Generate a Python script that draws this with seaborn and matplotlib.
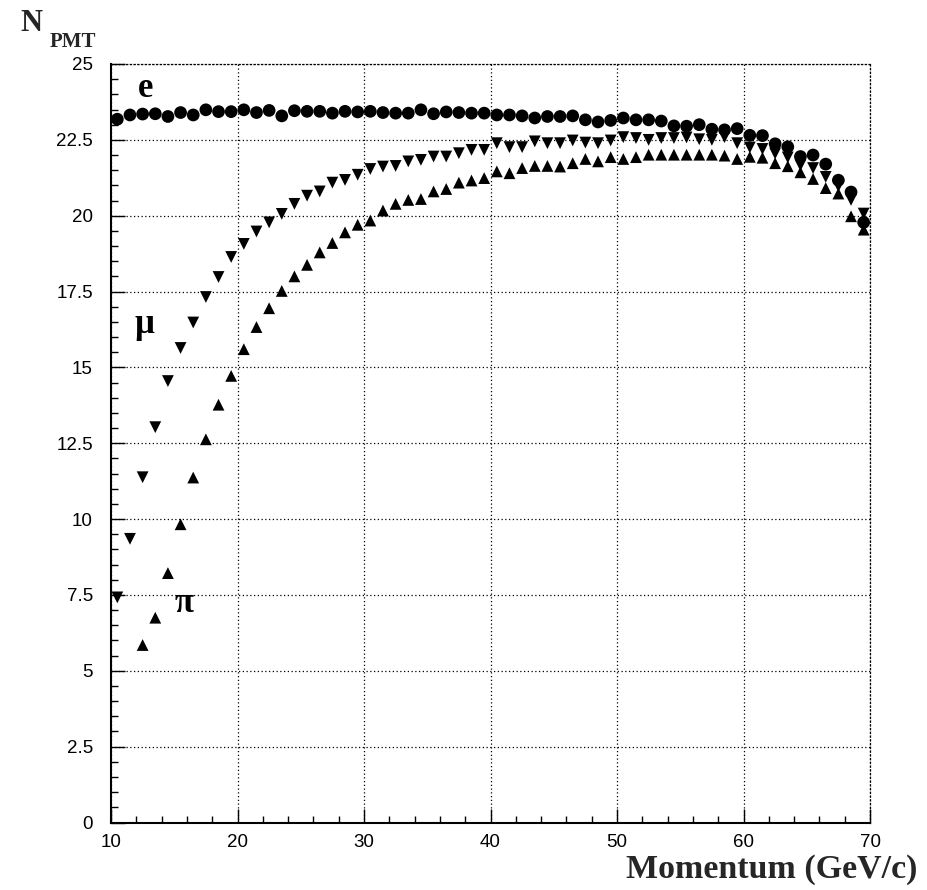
import numpy as np
import pandas as pd
import matplotlib
matplotlib.use("Agg")
import matplotlib.pyplot as plt
from matplotlib.ticker import MultipleLocator, FuncFormatter
import seaborn as sns

# Momentum bin centres (GeV/c)
momentum_e = np.arange(10.5, 70.0, 1.0)
momentum_mu = np.arange(10.5, 70.0, 1.0)
momentum_pi = np.arange(12.5, 70.0, 1.0)

# Mean number of photomultiplier hits per particle type
npmt_e = [23.18, 23.32, 23.35, 23.36, 23.27, 23.40, 23.32, 23.49, 23.43, 23.43,
          23.49, 23.40, 23.47, 23.29, 23.46, 23.44, 23.44, 23.38, 23.44, 23.42,
          23.44, 23.40, 23.38, 23.38, 23.49, 23.36, 23.42, 23.40, 23.38, 23.38,
          23.32, 23.32, 23.29, 23.22, 23.27, 23.27, 23.29, 23.16, 23.09, 23.14,
          23.22, 23.16, 23.16, 23.12, 22.96, 22.95, 23.00, 22.85, 22.83, 22.87,
          22.65, 22.64, 22.37, 22.27, 21.95, 22.00, 21.70, 21.17, 20.78, 19.78]

npmt_mu = [7.42, 9.35, 11.38, 13.03, 14.55, 15.64, 16.48, 17.32, 17.98, 18.64,
           19.07, 19.48, 19.78, 20.06, 20.39, 20.66, 20.80, 21.09, 21.18, 21.35,
           21.54, 21.62, 21.64, 21.79, 21.84, 21.95, 21.95, 22.06, 22.17, 22.17,
           22.39, 22.26, 22.26, 22.45, 22.39, 22.39, 22.48, 22.41, 22.39, 22.48,
           22.59, 22.56, 22.50, 22.56, 22.56, 22.58, 22.52, 22.50, 22.59, 22.39,
           22.25, 22.20, 22.05, 21.92, 21.66, 21.57, 21.28, 20.97, 20.52, 20.07]

npmt_pi = [5.85, 6.75, 8.22, 9.83, 11.37, 12.63, 13.77, 14.72,
           15.60, 16.33, 16.95, 17.52, 18.00, 18.38, 18.79, 19.10, 19.45, 19.70,
           19.84, 20.17, 20.39, 20.52, 20.55, 20.80, 20.88, 21.09, 21.16, 21.24,
           21.46, 21.40, 21.57, 21.64, 21.64, 21.62, 21.73, 21.87, 21.79, 21.93,
           21.87, 21.93, 22.01, 22.01, 22.01, 22.01, 22.01, 22.01, 21.98, 21.87,
           21.94, 21.91, 21.73, 21.63, 21.43, 21.21, 20.91, 20.73, 19.98, 19.54]

x_ticks = [10, 20, 30, 40, 50, 60, 70]
y_ticks = [0, 2.5, 5, 7.5, 10, 12.5, 15, 17.5, 20, 22.5, 25]

df_e = pd.DataFrame({"p": momentum_e, "n": npmt_e})
df_mu = pd.DataFrame({"p": momentum_mu, "n": npmt_mu})
df_pi = pd.DataFrame({"p": momentum_pi, "n": npmt_pi})

sns.set_theme(style="white")
plt.rcParams["font.family"] = ["Liberation Sans", "DejaVu Sans"]

W, H = 927, 890
fig = plt.figure(figsize=(W / 100, H / 100), dpi=100)
ax = fig.add_axes([111 / W, 67.5 / H, (870 - 111) / W, (822.5 - 64) / H])

sns.scatterplot(data=df_pi, x="p", y="n", marker="^", s=72, color="black",
                edgecolor="none", linewidth=0, ax=ax, zorder=3)
sns.scatterplot(data=df_mu, x="p", y="n", marker="v", s=72, color="black",
                edgecolor="none", linewidth=0, ax=ax, zorder=3)
sns.scatterplot(data=df_e, x="p", y="n", marker="o", s=84, color="black",
                edgecolor="none", linewidth=0, ax=ax, zorder=4)

ax.set_xlim(10, 70)
ax.set_ylim(0, 25)
ax.set_xlabel("")
ax.set_ylabel("")

ax.xaxis.set_minor_locator(MultipleLocator(2))
ax.yaxis.set_minor_locator(MultipleLocator(0.5))
ax.set_xticks(x_ticks)
ax.set_yticks(y_ticks)
ax.yaxis.set_major_formatter(FuncFormatter(lambda v, _: f"{v:g}"))

ax.tick_params(which="major", direction="in", length=10, width=1.0,
               color="black", left=True, bottom=True, top=False, right=False,
               labelsize=13.5, labelcolor="black")
ax.tick_params(axis="y", which="major", pad=13)
ax.tick_params(axis="x", which="major", pad=8)
ax.tick_params(which="minor", direction="in", length=5, width=1.0,
               color="black", left=True, bottom=True, top=False, right=False)

ax.grid(True, which="major", color="black", linestyle=(0, (1, 2)), linewidth=0.9)
ax.set_axisbelow(True)

for side in ("left", "bottom"):
    ax.spines[side].set_color("black")
    ax.spines[side].set_linewidth(1.5)
for side in ("top", "right"):
    ax.spines[side].set_color("black")
    ax.spines[side].set_linewidth(0.9)
    ax.spines[side].set_linestyle((0, (1, 2)))

serif = ["Liberation Serif", "DejaVu Serif"]

# particle labels
ax.text(12.72, 23.92, "e", family=serif, weight="bold", fontsize=25,
        ha="center", va="baseline", color="black")
ax.text(12.64, 16.13, "μ", family=serif, weight="bold", fontsize=25,
        ha="center", va="baseline", color="black")
ax.text(15.75, 6.95, "π", family=serif, weight="bold", fontsize=25,
        ha="center", va="baseline", color="black")

# axis titles
fig.text(20 / W, 1 - 31 / H, "N", family=serif, weight="bold", fontsize=22,
         ha="left", va="baseline")
fig.text(50 / W, 1 - 47 / H, "PMT", family=serif, weight="bold", fontsize=15,
         ha="left", va="baseline")
fig.text(917 / W, 12 / H, "Momentum (GeV/c)", family=serif, weight="bold",
         fontsize=24.5, ha="right", va="baseline")

fig.savefig("out.png", dpi=100, facecolor="white")
